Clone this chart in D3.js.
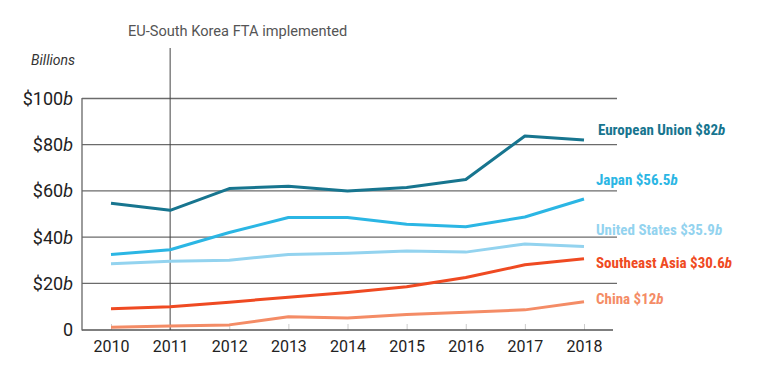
<!DOCTYPE html>
<html>
<head>
<meta charset="utf-8">
<script src="https://cdn.jsdelivr.net/npm/d3@7"></script>
<style>
  body { margin: 0; background: #fff; font-family: Roboto, "Noto Sans", sans-serif; }
  .lbl { font-family: "Liberation Sans Narrow", "Roboto Condensed", Roboto, sans-serif; font-weight: bold; font-size: 15px; }
</style>
</head>
<body>
<script>
const years = [2010, 2011, 2012, 2013, 2014, 2015, 2016, 2017, 2018];
const yTicks = [0, 20, 40, 60, 80, 100];

const euValues = [54.7, 51.6, 61, 62, 60, 61.5, 64.9, 83.8, 82];
const japanValues = [32.5, 34.5, 42, 48.5, 48.5, 45.6, 44.5, 48.7, 56.5];
const usValues = [28.5, 29.5, 30, 32.5, 33, 34, 33.5, 37, 35.9];
const seAsiaValues = [9, 9.8, 11.8, 14, 16, 18.5, 22.5, 28, 30.6];
const chinaValues = [1, 1.5, 2, 5.5, 5, 6.5, 7.5, 8.5, 12];

const series = [
  {name: "European Union", total: "$82", values: euValues, color: "#17758f"},
  {name: "Japan", total: "$56.5", values: japanValues, color: "#2bb6e4"},
  {name: "United States", total: "$35.9", values: usValues, color: "#93d3ef"},
  {name: "Southeast Asia", total: "$30.6", values: seAsiaValues, color: "#ef4a22"},
  {name: "China", total: "$12", values: chinaValues, color: "#f48c66"}
];
// label y positions (in values) so labels don't collide
const labelAt = [86.6, 64.8, 43.2, 28.8, 13.5];

const width = 781, height = 386;
const svg = d3.select("body").append("svg")
  .attr("width", width)
  .attr("height", height);

const x = d3.scaleLinear().domain([2010, 2018]).range([111, 584]);
const y = d3.scaleLinear().domain([0, 100]).range([329.5, 98.5]);

// gridlines
svg.append("g")
  .selectAll("line")
  .data(yTicks.filter(d => d > 0))
  .enter().append("line")
  .attr("x1", 82).attr("x2", 617)
  .attr("y1", d => y(d)).attr("y2", d => y(d))
  .attr("stroke", "#6b6b6b")
  .attr("stroke-width", 1.3);

// y labels
const yl = svg.append("g").selectAll("text")
  .data(yTicks)
  .enter().append("text")
  .attr("x", 73)
  .attr("y", d => y(d))
  .attr("dy", "0.36em")
  .attr("text-anchor", "end")
  .style("font-size", "18px")
  .style("fill", "#222");
yl.each(function(d) {
  const t = d3.select(this);
  if (d === 0) { t.text("0"); return; }
  t.append("tspan").text("$" + d);
  t.append("tspan").style("font-style", "italic").text("b");
});

svg.append("text")
  .attr("x", 75).attr("y", 65)
  .attr("text-anchor", "end")
  .style("font-size", "14px")
  .style("font-style", "italic")
  .style("fill", "#333")
  .text("Billions");

// x axis
const xAxis = svg.append("g")
  .attr("transform", "translate(0,330)")
  .call(d3.axisBottom(x).tickValues(years).tickFormat(d3.format("d")).tickSize(-6).tickSizeOuter(0));
xAxis.select(".domain").remove();
xAxis.selectAll(".tick line").attr("stroke", "#ccc");
xAxis.selectAll(".tick text")
  .attr("dy", "0")
  .attr("y", 22)
  .style("font-size", "16px")
  .style("font-family", "Roboto, sans-serif")
  .style("fill", "#222");
svg.append("line")
  .attr("x1", 82).attr("x2", 613)
  .attr("y1", 330).attr("y2", 330)
  .attr("stroke", "#555").attr("stroke-width", 1.3);
svg.append("line")
  .attr("x1", 82).attr("x2", 82)
  .attr("y1", y(100) - 0.5).attr("y2", 330.5)
  .attr("stroke", "#666").attr("stroke-width", 1.3);

// FTA marker
svg.append("line")
  .attr("x1", x(2011)).attr("x2", x(2011))
  .attr("y1", 48).attr("y2", 330)
  .attr("stroke", "#444").attr("stroke-width", 1);
svg.append("text")
  .attr("x", 128).attr("y", 36)
  .style("font-size", "14.6px")
  .style("fill", "#555")
  .text("EU-South Korea FTA implemented");

// lines
const line = d3.line()
  .x((d, i) => x(years[i]))
  .y(d => y(d));

svg.append("g").selectAll("path")
  .data(series)
  .enter().append("path")
  .attr("d", d => line(d.values))
  .attr("fill", "none")
  .attr("stroke", d => d.color)
  .attr("stroke-width", 3)
  .attr("stroke-linejoin", "round");

// end labels
const lab = svg.append("g").selectAll("text")
  .data(series)
  .enter().append("text")
  .attr("class", "lbl")
  .attr("x", (d, i) => i === 0 ? 598 : 596)
  .attr("y", (d, i) => y(labelAt[i]))
  .attr("dy", "0.35em")
  .style("fill", d => d.color);
lab.append("tspan").text(d => d.name + " " + d.total);
lab.append("tspan").style("font-style", "italic").text("b");
</script>
</body>
</html>
